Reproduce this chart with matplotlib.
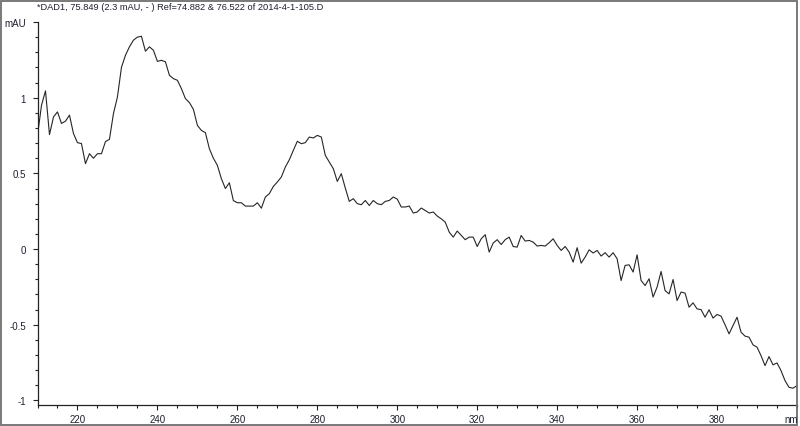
import matplotlib
matplotlib.use("Agg")
import matplotlib.pyplot as plt
from matplotlib.patches import Rectangle
from matplotlib.ticker import MultipleLocator
import numpy as np

# === Spectrum data ===
wl_start, wl_end = 210, 400
absorb = [
    0.75, 0.95, 1.045, 0.756, 0.873, 0.906, 0.83, 0.845, 0.885, 0.763,
    0.703, 0.697, 0.564, 0.63, 0.60, 0.63, 0.63, 0.71, 0.725, 0.895,
    1.005, 1.20, 1.28, 1.336, 1.38, 1.40, 1.406, 1.307, 1.336, 1.313,
    1.24, 1.247, 1.237, 1.148, 1.126, 1.115, 1.06, 0.994, 0.968, 0.923,
    0.817, 0.784, 0.769, 0.663, 0.60, 0.553, 0.465, 0.40, 0.438, 0.32,
    0.306, 0.306, 0.284, 0.284, 0.284, 0.306, 0.27, 0.344, 0.366, 0.414,
    0.443, 0.476, 0.542, 0.59, 0.652, 0.712, 0.696, 0.703, 0.74, 0.734,
    0.751, 0.74, 0.619, 0.575, 0.531, 0.447, 0.498, 0.403, 0.315, 0.333,
    0.30, 0.293, 0.321, 0.288, 0.321, 0.30, 0.293, 0.315, 0.321, 0.344,
    0.33,
    0.278, 0.278, 0.284, 0.238, 0.245, 0.271, 0.255, 0.238, 0.245, 0.218,
    0.20, 0.178, 0.112, 0.079, 0.119, 0.09, 0.062, 0.079, 0.079, 0.017,
    0.068, 0.095, -0.02, 0.04, 0.062, 0.03, 0.062, 0.079, 0.017, 0.013,
    0.09, 0.053, 0.057, 0.046, 0.02, 0.024, 0.02, 0.042, 0.068, 0.024,
    -0.009, 0.017, -0.02, -0.086, 0.009, -0.093, -0.053, -0.005, -0.026, -0.009,
    -0.046, -0.024, -0.053, -0.024, -0.064, -0.208, -0.108, -0.104, -0.152, -0.038,
    -0.208, -0.241, -0.196, -0.317, -0.251, -0.148, -0.274, -0.296, -0.201, -0.34,
    -0.284, -0.291, -0.384, -0.355, -0.395, -0.40, -0.45, -0.401, -0.456, -0.432,
    -0.443, -0.50, -0.56, -0.505, -0.45, -0.549, -0.575, -0.582, -0.633, -0.648,
    -0.704, -0.77, -0.71, -0.765, -0.752, -0.803, -0.869, -0.913, -0.919, -0.902,
]
wavelength = np.arange(wl_start, wl_end + 1)

title = "*DAD1, 75.849 (2.3 mAU, - ) Ref=74.882 & 76.522 of 2014-4-1-105.D"
y_ticks = [-1, -0.5, 0, 0.5, 1, 1.5]
y_ticklabels = ["-1", "-0.5", "0", "0.5", "1", "mAU"]
x_ticks = [220, 240, 260, 280, 300, 320, 340, 360, 380]

plt.rcParams["font.family"] = ["Liberation Sans", "DejaVu Sans"]
txt_col = "#1e2230"

W, H = 800, 427
fig = plt.figure(figsize=(W / 100, H / 100), dpi=100)
ax = fig.add_axes([37.5 / W, 21 / H, (797 - 37.5) / W, (404 - 21) / H])

ax.plot(wavelength, absorb, color="#262626", lw=0.8)

ax.set_xlim(wl_start, wl_end)
ax.set_ylim(-1.03, 1.5)

for side in ["top", "right"]:
    ax.spines[side].set_visible(False)
for side in ["left", "bottom"]:
    ax.spines[side].set_color("#222222")
    ax.spines[side].set_linewidth(0.9)

ax.set_xticks(x_ticks)
ax.set_yticks(y_ticks)
ax.set_yticklabels(y_ticklabels)
ax.xaxis.set_minor_locator(MultipleLocator(5))
ax.yaxis.set_minor_locator(MultipleLocator(0.1))
ax.tick_params(which="major", length=3.5, width=0.8, color="#222222",
               labelsize=7, labelcolor=txt_col, pad=3)
ax.tick_params(which="minor", length=2, width=0.8, color="#222222")
ax.tick_params(axis="y", which="major", pad=5)

fig.text(784 / W, 1 - 420 / H, "nm", fontsize=7, color=txt_col,
         ha="left", va="center")
fig.text(37 / W, 1 - 8 / H, title, fontsize=6.7, color=txt_col,
         ha="left", va="center")

# outer frame round the whole picture
fig.patches.append(Rectangle((1 / W, 1 / H), 796 / W, 424 / H,
                             transform=fig.transFigure, fill=False,
                             edgecolor="#6e6e6e", lw=1.3))

fig.savefig("out.png", dpi=100)
